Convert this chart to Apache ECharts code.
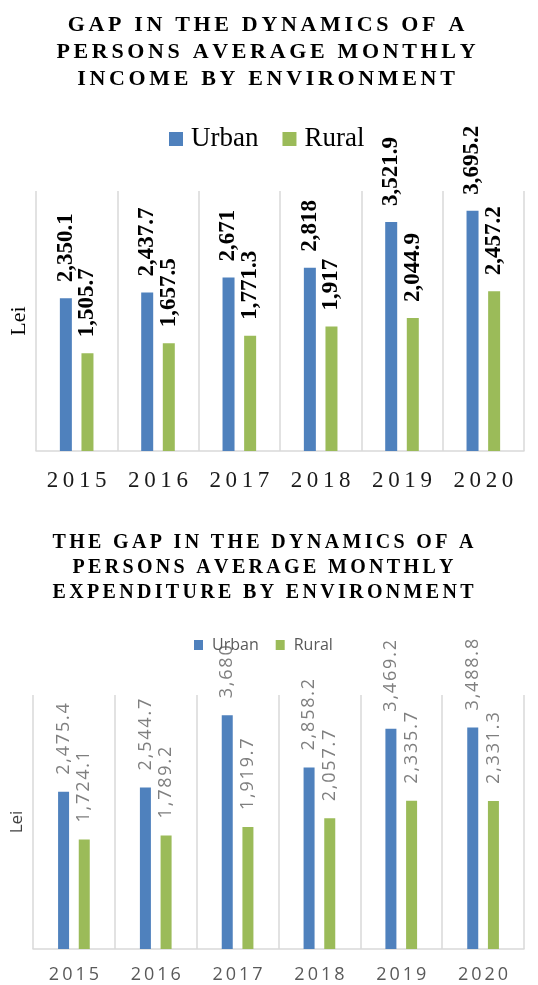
<!DOCTYPE html>
<html>
<head>
<meta charset="utf-8">
<style>html,body{margin:0;padding:0;background:#fff}#c{width:538px;height:985px}</style>
<script src="https://cdn.jsdelivr.net/npm/echarts@6/dist/echarts.min.js"></script>
</head>
<body>
<div id="c"></div>
<script>
// ---- data ----
var years = ['2015', '2016', '2017', '2018', '2019', '2020'];
var incomeUrban = [2350.1, 2437.7, 2671, 2818, 3521.9, 3695.2];
var incomeRural = [1505.7, 1657.5, 1771.3, 1917, 2044.9, 2457.2];
var expUrban = [2475.4, 2544.7, 3680, 2858.2, 3469.2, 3488.8];
var expRural = [1724.1, 1789.2, 1919.7, 2057.7, 2335.7, 2331.3];
var title1Lines = ['GAP IN THE DYNAMICS OF A', 'PERSONS AVERAGE MONTHLY', 'INCOME BY ENVIRONMENT'];
var title2Lines = ['THE GAP IN THE DYNAMICS OF A', 'PERSONS AVERAGE MONTHLY', 'EXPENDITURE BY ENVIRONMENT'];
var seriesNames = ['Urban', 'Rural'];
var axisName = 'Lei';

var BLUE = '#4f81bd', GREEN = '#9bbb59';
function spaced(s, sp) { return s.split('').join(sp); }
function fmt(v) { return v.toLocaleString('en-US', { maximumFractionDigits: 1 }); }

var chart = echarts.init(document.getElementById('c'), null, { renderer: 'canvas' });

var serif = 'Liberation Serif';
var sans = 'Open Sans';

function barSeries(name, data, color, xi, yi, barWidth, barGap, lab) {
  return {
    type: 'bar', name: name, data: data, xAxisIndex: xi, yAxisIndex: yi,
    barWidth: barWidth, barGap: barGap,
    itemStyle: { color: color },
    label: {
      show: true, position: 'top', rotate: 90, align: 'left', verticalAlign: 'middle',
      distance: lab.distance,
      fontFamily: lab.fontFamily, fontWeight: lab.fontWeight, fontSize: lab.fontSize, color: lab.color,
      formatter: function (p) { return spaced(fmt(p.value), lab.sp); }
    }
  };
}

var lab1 = { distance: 16, fontFamily: serif, fontWeight: 'bold', fontSize: 23, color: '#000', sp: '' };
var lab2 = { distance: 17, fontFamily: sans, fontWeight: 'normal', fontSize: 18, color: '#7f7f7f', sp: '\u200A' };

chart.setOption({
  animation: false,
  title: [
    {
      text: title1Lines.map(function (l) { return spaced(l, '\u2006'); }).join('\n'),
      left: 261, top: 7, textAlign: 'center',
      textStyle: { fontFamily: serif, fontWeight: 'bold', fontSize: 22, lineHeight: 27, color: '#000' }
    },
    {
      text: title2Lines.map(function (l) { return spaced(l, '\u2006'); }).join('\n'),
      left: 258, top: 525, textAlign: 'center',
      textStyle: { fontFamily: serif, fontWeight: 'bold', fontSize: 20, lineHeight: 25, color: '#000' }
    }
  ],
  legend: [
    {
      data: seriesNames, left: 164, top: 119, itemWidth: 14, itemHeight: 14, itemGap: 24,
      icon: 'rect',
      textStyle: { fontFamily: serif, fontSize: 27, lineHeight: 30, color: '#000', padding: [0, 0, 0, 3] }
    },
    {
      data: seriesNames, left: 189, top: 629, itemWidth: 9, itemHeight: 10, itemGap: 17,
      icon: 'rect',
      textStyle: { fontFamily: sans, fontSize: 16, lineHeight: 22, color: '#595959', padding: [0, 0, 0, 4] }
    }
  ],
  grid: [
    { left: 35, top: 191, width: 489, height: 260 },
    { left: 33, top: 695, width: 491, height: 254 }
  ],
  xAxis: [
    {
      type: 'category', gridIndex: 0, data: years,
      axisLine: { lineStyle: { color: '#d9d9d9', width: 1.5 } },
      axisTick: { show: false },
      splitLine: { show: true, interval: 0, lineStyle: { color: '#d9d9d9', width: 1.5 } },
      axisLabel: { interval: 0, margin: 18, fontFamily: serif, fontSize: 23, color: '#1a1a1a',
        formatter: function (v) { return spaced(v, '\u2009'); } }
    },
    {
      type: 'category', gridIndex: 1, data: years,
      axisLine: { lineStyle: { color: '#d9d9d9', width: 1.5 } },
      axisTick: { show: false },
      splitLine: { show: true, interval: 0, lineStyle: { color: '#d9d9d9', width: 1.5 } },
      axisLabel: { interval: 0, margin: 17, fontFamily: sans, fontSize: 18, color: '#595959',
        formatter: function (v) { return spaced(v, '\u2009'); } }
    }
  ],
  yAxis: [
    {
      type: 'value', gridIndex: 0, min: 0, max: 4000, interval: 1000,
      axisLine: { show: false }, axisTick: { show: false }, axisLabel: { show: false }, splitLine: { show: false },
      name: axisName, nameLocation: 'middle', nameGap: 6,
      nameTextStyle: { fontFamily: serif, fontSize: 22, color: '#000' }
    },
    {
      type: 'value', gridIndex: 1, min: 0, max: 4000, interval: 1000,
      axisLine: { show: false }, axisTick: { show: false }, axisLabel: { show: false }, splitLine: { show: false },
      name: axisName, nameLocation: 'middle', nameGap: 7,
      nameTextStyle: { fontFamily: sans, fontSize: 17, color: '#404040' }
    }
  ],
  series: [
    barSeries(seriesNames[0], incomeUrban, BLUE, 0, 0, 12, '80%', lab1),
    barSeries(seriesNames[1], incomeRural, GREEN, 0, 0, 12, '80%', lab1),
    barSeries(seriesNames[0], expUrban, BLUE, 1, 1, 11, '88%', lab2),
    barSeries(seriesNames[1], expRural, GREEN, 1, 1, 11, '88%', lab2)
  ]
});
</script>
</body>
</html>
